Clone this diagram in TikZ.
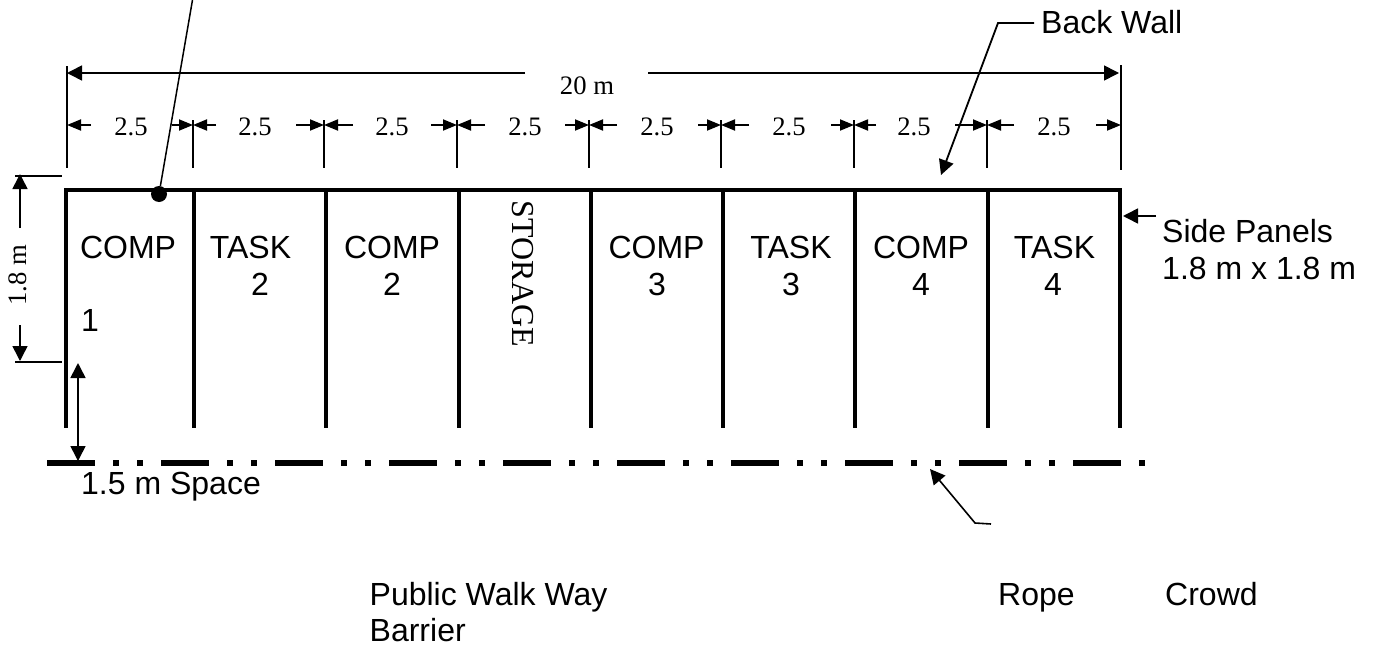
\documentclass[tikz,border=0pt]{standalone}
\usepackage{fontspec}
\setmainfont{Liberation Sans}
\newfontfamily\timesf{Liberation Serif}
\usetikzlibrary{arrows.meta}
\tikzset{
 wall/.style={line width=4pt,line cap=butt},
 thinline/.style={line width=1.5pt},
 ticka/.style={line width=1.4pt},
 bigarr/.style={line width=1.6pt,-{Triangle[length=15pt,width=15pt]}},
 smallarr/.style={line width=1.8pt,-{Triangle[length=14pt,width=11pt]}},
 sans/.style={font=\fontsize{32}{36}\selectfont,inner sep=0pt,anchor=base west},
 sansc/.style={font=\fontsize{32}{36}\selectfont,inner sep=0pt,anchor=base},
 serif/.style={font=\timesf\fontsize{26.67}{30}\selectfont,inner sep=0pt,anchor=base},
 rope/.style={line width=6pt,dash pattern=on 48pt off 18pt on 6pt off 18pt on 6pt off 18pt},
}
\begin{document}
\begin{tikzpicture}[x=1pt,y=-1pt]
\useasboundingbox (0,0) rectangle (1373,645);
% back wall and panels
\coordinate (wallL) at (64,190);
\coordinate (wallR) at (1122,190);
\draw[wall] (wallL) -- (wallR);
\foreach \n/\x in {a/66,b/194,c/326,d/459,e/591,f/723,g/855,h/988,i/1120}{
  \coordinate (top\n) at (\x,190);
  \coordinate (bot\n) at (\x,428);
  \draw[wall] (top\n) -- (bot\n);
}
% rope
\coordinate (ropeL) at (47,463);
\coordinate (ropeR) at (1145,463);
\draw[rope] (ropeL) -- (ropeR);
% overall dimension
\coordinate (dimL) at (67,73);
\coordinate (dimLe) at (525,73);
\coordinate (dimRs) at (648,73);
\coordinate (dimR) at (1119,73);
\draw[bigarr] (dimLe) -- (dimL);
\draw[bigarr] (dimRs) -- (dimR);
\node[serif] (twenty) at (587,94) {20 m};
% end ticks
\draw[ticka] (67,66) coordinate (tl) -- (67,168);
\draw[ticka] (1121,65) coordinate (tr) -- (1121,170);
% module ticks
\foreach \x in {193,324,457,589,721,854,987}{
  \draw[ticka] (\x,120) -- (\x,168);
}
% module dimension arrows
\foreach \s/\e in {91/67,172/193,216/193,296/324,353/324,431/457,485/457,565/589,617/589,698/721,749/721,831/854,876/854,955/987,1014/987,1096/1121}{
  \draw[smallarr] (\s,125) -- (\e,125);
}
\foreach \x/\k in {131/a,255/b,392/c,525/d,657/e,789/f,914/g,1054/h}{
  \node[serif] (dim\k) at (\x,135) {2.5};
}
% leader with dot
\node[circle,fill=black,inner sep=0pt,minimum size=16pt] (dot) at (159,194) {};
\coordinate (leadTop) at (192.5,0);
\draw[thinline] (leadTop) -- (dot);
% back wall leader
\node[sans] (backwall) at (1041,33) {Back Wall};
\coordinate (bwStart) at (1034,23);
\coordinate (bwKnee) at (998,23);
\coordinate (bwTip) at (941,175);
\draw[bigarr,line width=1.8pt] (bwStart) -- (bwKnee) -- (bwTip);
% left dimension
\draw[thinline] (15,176) coordinate (ltop) -- (62,176);
\draw[thinline] (15,362) coordinate (lbot) -- (62,362);
\draw[bigarr] (20,228) coordinate (la) -- (20,174);
\draw[bigarr] (20,325) coordinate (lb) -- (20,361);
\node[serif,rotate=90] (onepoint) at (27,275) {1.8 m};
% space arrow
\coordinate (spTop) at (78,363);
\coordinate (spBot) at (78,461);
\draw[bigarr,{Triangle[length=15pt,width=15pt]}-{Triangle[length=15pt,width=15pt]}] (spTop) -- (spBot);
% side panel arrow
\coordinate (spS) at (1156,216);
\coordinate (spT) at (1123,216);
\draw[bigarr] (spS) -- (spT);
% rope leader
\coordinate (rpS) at (991,524);
\coordinate (rpK) at (975,523);
\coordinate (rpT) at (930,469);
\draw[bigarr] (rpS) -- (rpK) -- (rpT);
% bay labels
\node[sansc] (l1) at (128,258) {COMP};
\node[sans] (l1b) at (81,331) {1};
\node[sansc] (l2) at (250.5,258) {TASK};
\node[sansc] (l2b) at (260,295) {2};
\node[sansc] (l3) at (392,258) {COMP};
\node[sansc] (l3b) at (392,295) {2};
\node[sansc] (l5) at (656.5,258) {COMP};
\node[sansc] (l5b) at (657,295) {3};
\node[sansc] (l6) at (791,258) {TASK};
\node[sansc] (l6b) at (791,295) {3};
\node[sansc] (l7) at (921,258) {COMP};
\node[sansc] (l7b) at (921,295) {4};
\node[sansc] (l8) at (1054.5,258) {TASK};
\node[sansc] (l8b) at (1053,295) {4};
\node[font=\timesf\fontsize{32}{36}\selectfont,inner sep=0pt,rotate=-90,anchor=base] (storage) at (512,274) {STORAGE};
% right and bottom texts
\node[sans] (side1) at (1162,242) {Side Panels};
\node[sans] (side2) at (1162,279) {1.8 m x 1.8 m};
\node[sans] (space) at (81,494) {1.5 m Space};
\node[sans] (pww) at (369.5,605) {Public Walk Way};
\node[sans] (barrier) at (369.5,641.5) {Barrier};
\node[sans] (ropetext) at (998,605) {Rope};
\node[sans] (crowd) at (1165,605) {Crowd};
\end{tikzpicture}
\end{document}
